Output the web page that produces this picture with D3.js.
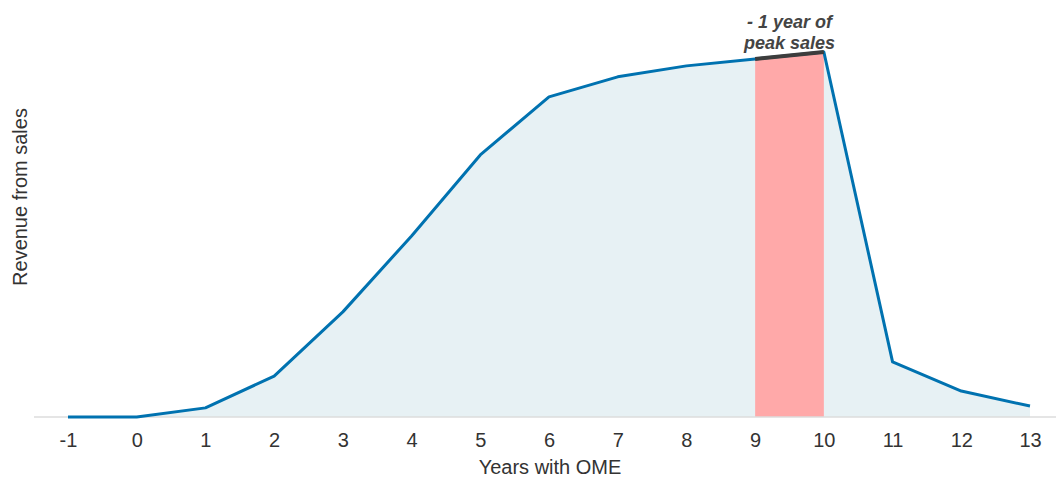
<!DOCTYPE html>
<html>
<head>
<meta charset="UTF-8">
<title>Revenue from sales</title>
<script src="https://d3js.org/d3.v7.min.js"></script>
<style>
  body { margin: 0; background: #fff; font-family: Arial, "Liberation Sans", sans-serif; }
</style>
</head>
<body>
<div id="chart"></div>
<script>

// data (revenue in relative units, peak = 100)
var years   = [-1, 0, 1, 2, 3, 4, 5, 6, 7, 8, 9, 10, 11, 12, 13]
var revenue = [0, 0, 2.5, 11.2, 28.8, 49.6, 71.8, 87.7, 93.2, 96.2, 98.1, 100, 15.1, 7.1, 3.0]
var peakYears = [9, 10]
var noteLines = ["- 1 year of", "peak sales"]

var width = 1056, height = 480
var plotLeft = 34, plotRight = 1056, baseY = 417, topY = 52
var font = "Arial, 'Liberation Sans', sans-serif"

var svg = d3.select("#chart").append("svg")
	.attr("width", width)
	.attr("height", height)
	.attr("font-family", font)

var x = d3.scaleLinear().domain([-1, 13]).range([68, 1030])
var y = d3.scaleLinear().domain([0, 100]).range([baseY, topY])

var pts = years.map(function(d, i) { return { yr: d, v: revenue[i] } })

// shaded area under the curve
var area = d3.area()
	.x(function(d) { return x(d.yr) })
	.y0(y(0))
	.y1(function(d) { return y(d.v) })

svg.append("path")
	.datum(pts)
	.attr("d", area)
	.attr("fill", "#e7f1f4")

// peak year band
var peakPts = pts.filter(function(d) { return d.yr >= peakYears[0] && d.yr <= peakYears[1] })
svg.append("path")
	.datum(peakPts)
	.attr("d", area)
	.attr("fill", "#ffa9a9")

// baseline
svg.append("line")
	.attr("x1", plotLeft).attr("x2", plotRight)
	.attr("y1", baseY).attr("y2", baseY)
	.attr("stroke", "#dcdcdc")
	.attr("stroke-width", 1.5)

var line = d3.line()
	.x(function(d) { return x(d.yr) })
	.y(function(d) { return y(d.v) })

svg.append("path")
	.datum(pts)
	.attr("d", line)
	.attr("fill", "none")
	.attr("stroke", "#0072b0")
	.attr("stroke-width", 3)
	.attr("stroke-linejoin", "round")

svg.append("path")
	.datum(peakPts)
	.attr("d", line)
	.attr("fill", "none")
	.attr("stroke", "#3d3d3d")
	.attr("stroke-width", 4)

// x axis
var xAxis = d3.axisBottom(x).tickValues(years).tickSize(0).tickPadding(16)
	.tickFormat(function(d) { return String(d) })
var gx = svg.append("g")
	.attr("transform", "translate(0," + baseY + ")")
	.call(xAxis)
gx.select(".domain").remove()
gx.selectAll("text")
	.attr("font-size", 20)
	.attr("font-family", font)
	.attr("fill", "#333")

svg.append("text")
	.attr("x", (plotLeft + plotRight) / 2 + 5)
	.attr("y", 474)
	.attr("text-anchor", "middle")
	.attr("font-size", 20)
	.attr("fill", "#333")
	.text("Years with OME")

svg.append("text")
	.attr("transform", "translate(27," + 197 + ") rotate(-90)")
	.attr("text-anchor", "middle")
	.attr("font-size", 20)
	.attr("fill", "#333")
	.text("Revenue from sales")

// annotation
var cx = x((peakYears[0] + peakYears[1]) / 2)
svg.append("text")
	.attr("x", cx)
	.attr("y", 28)
	.attr("text-anchor", "middle")
	.attr("font-size", 18)
	.attr("font-weight", "bold")
	.attr("font-style", "italic")
	.attr("fill", "#444")
	.selectAll("tspan")
	.data(noteLines).enter()
	.append("tspan")
	.attr("x", cx)
	.attr("dy", function(d, i) { return i ? 21 : 0 })
	.text(function(d) { return d })

</script>
</body>
</html>
